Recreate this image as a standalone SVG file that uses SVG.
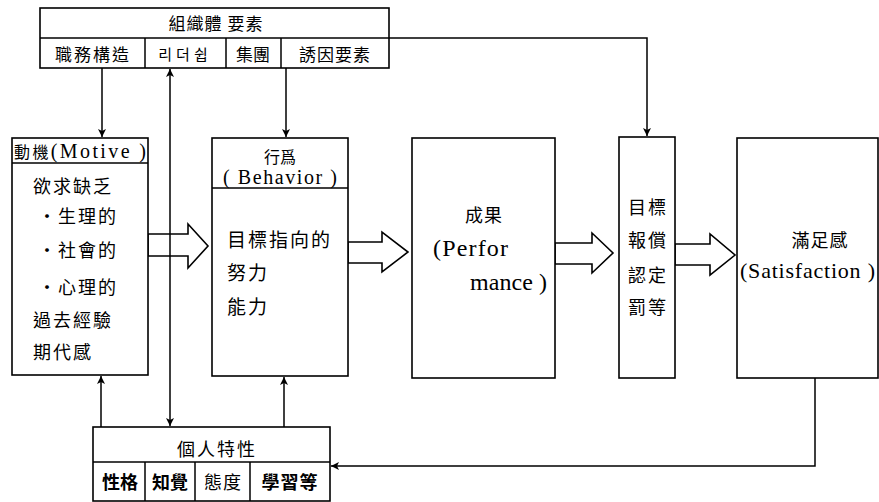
<svg xmlns="http://www.w3.org/2000/svg" width="879" height="502" viewBox="0 0 879 502">
<style>
.bx{fill:#fff;stroke:#000;stroke-width:1.6}
.ln{fill:none;stroke:#000;stroke-width:1.5}
.ba{fill:#fff;stroke:#000;stroke-width:1.6;stroke-linejoin:miter}
.cj{font-family:"Noto Sans CJK TC","Noto Sans CJK SC",sans-serif;fill:#000}
.kr{font-family:"Noto Sans CJK KR",sans-serif;fill:#000}
.en{font-family:"Liberation Serif","Noto Sans CJK TC",serif;fill:#000}
.mid{text-anchor:middle}
.b{font-weight:700}
</style>
<defs>
<marker id="ah" markerUnits="userSpaceOnUse" markerWidth="10" markerHeight="10" refX="8" refY="4" orient="auto-start-reverse">
<path d="M0,0 L8,4 L0,8 L2,4 z" fill="#000"/>
</marker>
</defs>

<g id="block-arrows">
<polygon class="ba" points="148,234 188,234 188,224 208,246 188,268 188,256 148,256"/>
<polygon class="ba" points="348,242 382,242 382,232 408,252 382,272 382,263 348,263"/>
<polygon class="ba" points="555,243 592,243 592,233 613,253 592,273 592,264 555,264"/>
<polygon class="ba" points="675,244 710,244 710,234 735,255 710,275 710,265 675,265"/>
</g>

<g id="org">
<rect class="bx" x="40" y="8" width="349" height="60"/>
<line class="ln" x1="40" y1="38" x2="389" y2="38"/>
<line class="ln" x1="145" y1="38" x2="145" y2="68"/>
<line class="ln" x1="226" y1="38" x2="226" y2="68"/>
<line class="ln" x1="281" y1="38" x2="281" y2="68"/>
<text class="cj mid" x="216" y="30" style="font-size:17px" letter-spacing="1">組織體 要素</text>
<text class="cj mid" x="93" y="61" style="font-size:17px" letter-spacing="2">職務構造</text>
<text class="kr mid" x="185" y="60" style="font-size:15px" letter-spacing="4">리더쉽</text>
<text class="cj mid" x="253" y="61" style="font-size:17px">集團</text>
<text class="cj mid" x="335" y="61" style="font-size:17px" letter-spacing="1">誘因要素</text>
</g>

<g id="motive">
<rect class="bx" x="12" y="138" width="136" height="237"/>
<line class="ln" x1="12" y1="163" x2="148" y2="163"/>
<text class="en" x="14" y="158" style="font-size:20px" textLength="132" lengthAdjust="spacing"><tspan class="cj" style="font-size:16px">動機</tspan>(Motive )</text>
<text class="cj" x="33" y="193" style="font-size:18px" letter-spacing="2">欲求缺乏</text>
<text class="cj" x="38" y="223" style="font-size:18px" letter-spacing="2">・生理的</text>
<text class="cj" x="38" y="257" style="font-size:18px" letter-spacing="2">・社會的</text>
<text class="cj" x="38" y="294" style="font-size:18px" letter-spacing="2">・心理的</text>
<text class="cj" x="33" y="327" style="font-size:18px" letter-spacing="2">過去經驗</text>
<text class="cj" x="33" y="359" style="font-size:18px" letter-spacing="2">期代感</text>
</g>

<g id="behavior">
<rect class="bx" x="212" y="138" width="136" height="238"/>
<line class="ln" x1="212" y1="188" x2="348" y2="188"/>
<text class="cj mid" x="280" y="163" style="font-size:16px">行爲</text>
<text class="en mid" x="280" y="184" style="font-size:20px" textLength="114" lengthAdjust="spacing">( Behavior )</text>
<text class="cj" x="227" y="247" style="font-size:19px" letter-spacing="2">目標指向的</text>
<text class="cj" x="227" y="280" style="font-size:19px" letter-spacing="2">努力</text>
<text class="cj" x="227" y="314" style="font-size:19px" letter-spacing="2">能力</text>
</g>

<g id="performance">
<rect class="bx" x="412" y="138" width="143" height="240"/>
<text class="cj mid" x="484" y="222" style="font-size:18px" letter-spacing="1">成果</text>
<text class="en" x="433" y="256" style="font-size:24px" textLength="75" lengthAdjust="spacing">(Perfor</text>
<text class="en" x="470" y="290" style="font-size:24px" textLength="77" lengthAdjust="spacing">mance )</text>
</g>

<g id="reward">
<rect class="bx" x="619" y="137" width="56" height="241"/>
<text class="cj" x="628" y="214" style="font-size:18px" letter-spacing="2">目標</text>
<text class="cj" x="628" y="247" style="font-size:18px" letter-spacing="2">報償</text>
<text class="cj" x="628" y="282" style="font-size:18px" letter-spacing="2">認定</text>
<text class="cj" x="628" y="314" style="font-size:18px" letter-spacing="2">罰等</text>
</g>

<g id="satisfaction">
<rect class="bx" x="737" y="138" width="141" height="240"/>
<text class="cj mid" x="820" y="247" style="font-size:18px" letter-spacing="1">滿足感</text>
<text class="en" x="740" y="278" style="font-size:22px" textLength="135" lengthAdjust="spacing">(Satisfaction )</text>
</g>

<g id="personal">
<rect class="bx" x="93" y="427" width="237" height="74"/>
<line class="ln" x1="93" y1="462" x2="330" y2="462"/>
<line class="ln" x1="145" y1="462" x2="145" y2="501"/>
<line class="ln" x1="195" y1="462" x2="195" y2="501"/>
<line class="ln" x1="250" y1="462" x2="250" y2="501"/>
<text class="cj mid" x="217" y="456" style="font-size:18px" letter-spacing="2">個人特性</text>
<text class="cj mid b" x="120" y="489" style="font-size:18px">性格</text>
<text class="cj mid b" x="170" y="489" style="font-size:18px">知覺</text>
<text class="cj mid" x="223" y="489" style="font-size:18px" letter-spacing="1">態度</text>
<text class="cj mid b" x="290" y="489" style="font-size:18px" letter-spacing="1">學習等</text>
</g>

<g id="connectors">
<line class="ln" x1="102" y1="68" x2="102" y2="137" marker-end="url(#ah)"/>
<line class="ln" x1="170" y1="426" x2="170" y2="69" marker-start="url(#ah)" marker-end="url(#ah)"/>
<line class="ln" x1="286" y1="68" x2="286" y2="137" marker-end="url(#ah)"/>
<polyline class="ln" points="389,38 647,38 647,136" marker-end="url(#ah)"/>
<polyline class="ln" points="815,378 815,466 331,466" marker-end="url(#ah)"/>
<line class="ln" x1="101" y1="427" x2="101" y2="376" marker-end="url(#ah)"/>
<line class="ln" x1="284" y1="427" x2="284" y2="377" marker-end="url(#ah)"/>
</g>
</svg>
